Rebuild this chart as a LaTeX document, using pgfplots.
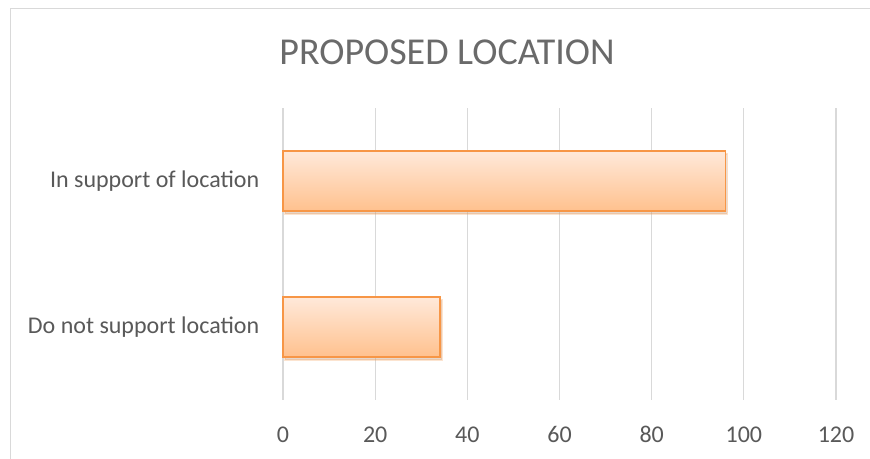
\documentclass[border=0pt]{standalone}
\usepackage{fontspec}
\setmainfont{Carlito}
\usepackage{pgfplots}
\pgfplotsset{compat=1.18}
\usetikzlibrary{shadows}
\definecolor{txt}{HTML}{595959}
\definecolor{titlec}{HTML}{6A6A6A}
\definecolor{gridc}{HTML}{D9D9D9}
\definecolor{barline}{HTML}{F79646}
\definecolor{bartop}{HTML}{FFE9DA}
\definecolor{barbot}{HTML}{FFC18E}
\begin{document}
\begin{tikzpicture}
\useasboundingbox (0,0) rectangle (652.5pt,344.25pt);
\fill[white] (0,0) rectangle (652.5pt,344.25pt);
\draw[gridc, line width=1.1pt] (7.875pt,0) -- (7.875pt,337.875pt) -- (652.5pt,337.875pt);
\node[text=titlec, font=\fontsize{28.5}{33}\selectfont] at (335.25pt,305.25pt) {PROPOSED LOCATION};
\begin{axis}[
  at={(212.25pt,44.25pt)}, anchor=south west,
  scale only axis,
  width=414.75pt, height=219pt,
  xbar, bar width=45pt, bar shift=0pt,
  xmin=0, xmax=120,
  ymin=-0.5, ymax=1.5,
  xtick={0,20,...,120},
  ytick={0,1},
  yticklabels={Do not support location, In support of location},
  xmajorgrids, major grid style={gridc, line width=0.9pt},
  axis line style={draw=none},
  tick style={draw=none},
  ticklabel style={text=txt, font=\fontsize{18}{21}\selectfont},
  xticklabel style={yshift=-16pt, text height=12pt, text depth=0pt},
  yticklabel style={xshift=-10pt},
  /pgf/number format/assume math mode=true,
  clip=false,
]
\addplot[draw=barline, line width=1.3pt, top color=bartop, bottom color=barbot,
  drop shadow={shadow xshift=1.5pt, shadow yshift=-2pt, opacity=0.25}]
  coordinates {(96,1)};
\addplot[draw=barline, line width=1.3pt, top color=bartop, bottom color=barbot,
  drop shadow={shadow xshift=1.5pt, shadow yshift=-2pt, opacity=0.25}]
  coordinates {(34,0)};
\end{axis}
\end{tikzpicture}
\end{document}
